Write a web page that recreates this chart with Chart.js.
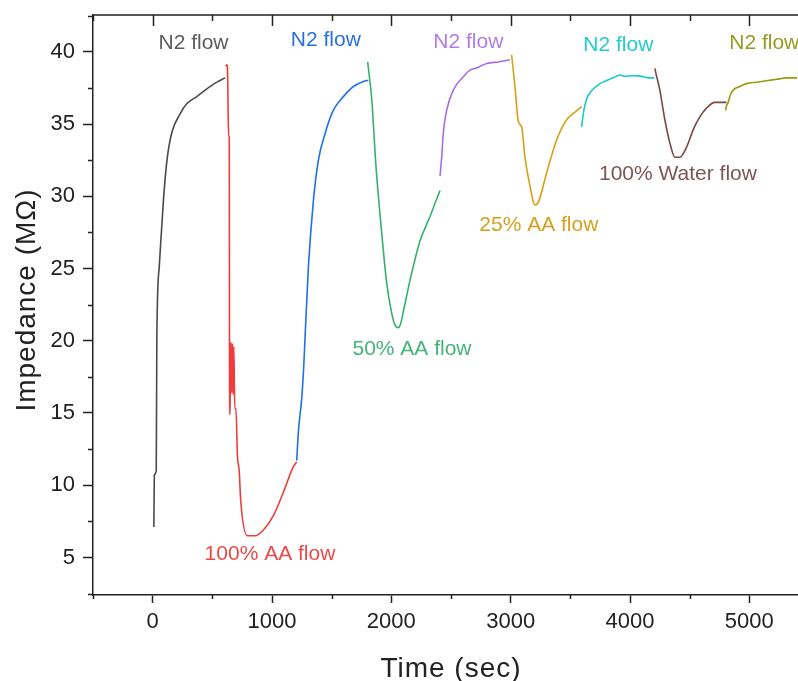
<!DOCTYPE html>
<html>
<head>
<meta charset="utf-8">
<title>Impedance vs time</title>
<script src="https://cdn.jsdelivr.net/npm/chart.js@4.4.1/dist/chart.umd.min.js"></script>
<style>
  html, body { margin: 0; padding: 0; background: #fff; overflow: hidden; }
  #wrap { width: 810px; height: 681px; }
</style>
</head>
<body>
<div id="wrap"><canvas id="chart" width="810" height="681"></canvas></div>
<script>
// Impedance response (MΩ) over time (sec), one run per gas flow step

// N2 flow (first)
const n2aTime = [10, 14, 30, 35, 55, 90, 120, 160, 230, 285, 370, 465, 538, 607];
const n2aZ    = [7.1, 10.7, 11.0, 20.2, 25.1, 29.7, 32.5, 34.4, 35.7, 36.4, 36.9, 37.5, 37.9, 38.2];

// 100% AA flow
const aa100Time = [612, 622, 628, 636, 642, 644, 648, 652, 656, 662, 668, 674, 680, 688, 698, 710, 725, 739, 794, 858, 928, 1012, 1095, 1180, 1207];
const aa100Z    = [39.0, 39.1, 38.5, 34.2, 34.1, 17.8, 14.9, 18.0, 19.9, 16.4, 19.8, 16.3, 19.6, 15.3, 15.3, 12.1, 11.0, 8.8, 6.5, 6.5, 6.9, 7.9, 9.5, 11.3, 11.6];

// N2 flow (second)
const n2bTime = [1207, 1222, 1250, 1265, 1277, 1305, 1347, 1389, 1445, 1514, 1598, 1682, 1750, 1807];
const n2bZ    = [11.7, 13.8, 16.1, 18.1, 20.2, 25.1, 29.7, 32.5, 34.35, 35.96, 36.9, 37.6, 37.9, 38.04];

// 50% AA flow
const aa50Time = [1802, 1806, 1836, 1872, 1920, 1961, 2003, 2030, 2055, 2075, 2100, 2157, 2240, 2324, 2370, 2408];
const aa50Z    = [39.3, 39.0, 36.7, 32.0, 27.4, 24.0, 21.9, 21.1, 20.9, 21.1, 22.0, 24.2, 26.9, 28.6, 29.6, 30.4];

// N2 flow (third)
const n2cTime = [2408, 2422, 2435, 2464, 2519, 2603, 2659, 2720, 2799, 2900, 2994];
const n2cZ    = [31.4, 32.7, 34.35, 35.96, 37.35, 38.27, 38.73, 38.9, 39.2, 39.3, 39.45];

// 25% AA flow
const aa25Time = [3008, 3036, 3064, 3092, 3120, 3162, 3190, 3204, 3232, 3301, 3385, 3469, 3520, 3595];
const aa25Z    = [39.8, 37.6, 35.2, 34.8, 32.7, 30.7, 29.6, 29.4, 29.6, 31.6, 33.9, 35.3, 35.7, 36.2];

// N2 flow (fourth)
const n2dTime = [3595, 3605, 3622, 3645, 3678, 3748, 3800, 3859, 3915, 3960, 4027, 4100, 4150, 4203];
const n2dZ    = [34.8, 35.5, 36.3, 36.9, 37.3, 37.8, 38.0, 38.2, 38.4, 38.3, 38.35, 38.3, 38.2, 38.2];

// 100% Water flow
const waterTime = [4209, 4215, 4250, 4292, 4334, 4376, 4418, 4474, 4529, 4585, 4641, 4711, 4809];
const waterZ    = [38.85, 38.6, 37.35, 35.3, 33.7, 32.7, 32.7, 33.4, 34.6, 35.5, 36.1, 36.5, 36.5];

// N2 flow (fifth)
const n2eTime = [4801, 4810, 4823, 4840, 4864, 4920, 4976, 5060, 5144, 5230, 5311, 5400];
const n2eZ    = [35.95, 36.3, 36.5, 37.0, 37.35, 37.6, 37.8, 37.9, 38.0, 38.1, 38.2, 38.2];

// axis ticks
const xTickValues = [0, 1000, 2000, 3000, 4000, 5000];
const yTickValues = [5, 10, 15, 20, 25, 30, 35, 40];

// step labels, anchored in data units (time, impedance at text baseline)
const labelTexts  = ["N2 flow", "100% AA flow", "N2 flow", "50% AA flow", "N2 flow", "25% AA flow", "N2 flow", "100% Water flow", "N2 flow"];
const labelTimes  = [342, 983, 1451, 2173, 2645, 3236, 3902, 4402, 5125];
const labelValues = [40.17, 4.81, 40.42, 19.0, 40.28, 27.61, 40.07, 31.12, 40.19];

const lineColors  = ["#4a4a4a", "#f03c3c", "#2070e8", "#36b070", "#a86ce8", "#d8a018", "#18cccc", "#7a4848", "#9a9a10"];
const textColors  = ["#5c5c5c", "#ea4a4a", "#2a6fe0", "#44b47a", "#b07ce8", "#d4a020", "#22cccc", "#7d5555", "#999922"];

const series = [
  [n2aTime, n2aZ], [aa100Time, aa100Z], [n2bTime, n2bZ], [aa50Time, aa50Z],
  [n2cTime, n2cZ], [aa25Time, aa25Z], [n2dTime, n2dZ], [waterTime, waterZ], [n2eTime, n2eZ]
];

const AXIS = "#222";
const FONT = "'Liberation Sans', Arial, sans-serif";

function toPoints(ts, zs) {
  return ts.map((t, i) => ({ x: t, y: zs[i] }));
}

// minor ticks half way between the major ones, plus one step past each end
function minorTicks(major, min, max) {
  const step = major[1] - major[0];
  const out = [];
  for (let v = major[0] - step / 2; v <= max; v += step) {
    if (v >= min) out.push(v);
  }
  return out;
}

// frame, extra tick marks, step labels and axis titles
const decorations = {
  id: "decorations",
  afterDraw(chart) {
    const ctx = chart.ctx;
    const a = chart.chartArea;
    const xs = chart.scales.x;
    const ys = chart.scales.y;

    ctx.save();
    ctx.strokeStyle = AXIS;
    ctx.lineWidth = 1.5;
    ctx.beginPath();
    ctx.moveTo(a.left, a.top);
    ctx.lineTo(a.right, a.top);
    ctx.lineTo(a.right, a.bottom);
    ctx.stroke();

    ctx.beginPath();
    // top axis: ticks pointing down
    xTickValues.forEach(v => {
      const px = Math.round(xs.getPixelForValue(v)) + 0.5;
      ctx.moveTo(px, a.top); ctx.lineTo(px, a.top + 11);
    });
    minorTicks(xTickValues, xs.min, xs.max).forEach(v => {
      const px = Math.round(xs.getPixelForValue(v)) + 0.5;
      ctx.moveTo(px, a.top); ctx.lineTo(px, a.top + 6);
      // bottom minor ticks, outward
      ctx.moveTo(px, a.bottom); ctx.lineTo(px, a.bottom + 4);
    });
    // right axis: ticks pointing left
    yTickValues.forEach(v => {
      const py = Math.round(ys.getPixelForValue(v)) + 0.5;
      ctx.moveTo(a.right, py); ctx.lineTo(a.right - 11, py);
    });
    minorTicks(yTickValues, ys.min, ys.max).forEach(v => {
      const py = Math.round(ys.getPixelForValue(v)) + 0.5;
      ctx.moveTo(a.right, py); ctx.lineTo(a.right - 6, py);
      // left minor ticks, outward
      ctx.moveTo(a.left, py); ctx.lineTo(a.left - 5, py);
    });
    ctx.stroke();

    // step labels
    ctx.font = "21px " + FONT;
    ctx.textAlign = "center";
    ctx.textBaseline = "alphabetic";
    labelTexts.forEach((txt, i) => {
      ctx.fillStyle = textColors[i];
      ctx.fillText(txt, xs.getPixelForValue(labelTimes[i]), ys.getPixelForValue(labelValues[i]));
    });

    // axis titles
    ctx.fillStyle = AXIS;
    ctx.font = "28px " + FONT;
    ctx.letterSpacing = "1px";
    ctx.fillText("Time (sec)", 451, 677);
    ctx.translate(35, 300);
    ctx.rotate(-Math.PI / 2);
    ctx.fillText("Impedance (MΩ)", 0, 0);
    ctx.restore();
  }
};

const ctx = document.getElementById("chart").getContext("2d");
new Chart(ctx, {
  type: "line",
  data: {
    datasets: series.map((s, i) => ({
      data: toPoints(s[0], s[1]),
      borderColor: lineColors[i],
      borderWidth: 1.6,
      pointRadius: 0,
      fill: false,
      cubicInterpolationMode: "monotone"
    }))
  },
  options: {
    responsive: false,
    animation: false,
    events: [],
    layout: { padding: { top: 15, right: 1, left: 0, bottom: 0 } },
    plugins: { legend: { display: false }, tooltip: { enabled: false } },
    scales: {
      x: {
        type: "linear",
        min: -500,
        max: 5500,
        afterBuildTicks: s => { s.ticks = xTickValues.map(v => ({ value: v })); },
        afterFit: s => { s.height = 86; s.paddingLeft = 0; s.paddingRight = 0; },
        grid: { display: true, drawOnChartArea: false, drawTicks: true, tickLength: 8, tickWidth: 1.5, tickColor: AXIS },
        border: { display: true, color: AXIS, width: 1.5 },
        ticks: { color: AXIS, font: { family: FONT, size: 22 }, padding: 6, maxRotation: 0, callback: v => String(v) }
      },
      y: {
        type: "linear",
        min: 2.4,
        max: 42.55,
        afterBuildTicks: s => { s.ticks = yTickValues.map(v => ({ value: v })); },
        afterFit: s => { s.width = 93; s.paddingTop = 0; s.paddingBottom = 0; },
        grid: { display: true, drawOnChartArea: false, drawTicks: true, tickLength: 10, tickWidth: 1.5, tickColor: AXIS },
        border: { display: true, color: AXIS, width: 1.5 },
        ticks: { color: AXIS, font: { family: FONT, size: 22 }, padding: 8, callback: v => String(v) }
      }
    }
  },
  plugins: [decorations]
});
</script>
</body>
</html>
